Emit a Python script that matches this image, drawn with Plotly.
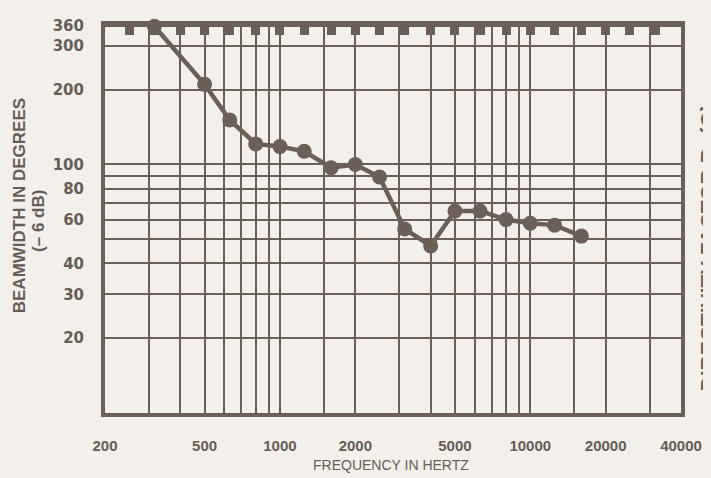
import numpy as np
import plotly.graph_objects as go

# ---- data ----
freq_hz = [315, 500, 630, 800, 1000, 1250, 1600, 2000, 2500, 3150, 4000,
           5000, 6300, 8000, 10000, 12500, 16000]
beamwidth_deg = [360, 210, 151, 121, 118, 113, 97, 100, 89, 55, 47,
                 65, 65, 60, 58, 57, 51.5]

x_label_vals = [200, 500, 1000, 2000, 5000, 10000, 20000, 40000]
x_grid_vals = [300, 400, 500, 600, 700, 800, 900, 1000, 1500, 2000, 3000,
               4000, 5000, 6000, 7000, 8000, 9000, 10000, 15000, 20000, 30000]
third_octave_marks = [200, 250, 315, 400, 500, 630, 800, 1000, 1250, 1600,
                      2000, 2500, 3150, 4000, 5000, 6300, 8000, 10000, 12500,
                      16000, 20000, 25000, 31500]
y_label_vals = [20, 30, 40, 60, 80, 100, 200, 300, 360]
y_grid_vals = [20, 30, 40, 50, 60, 70, 80, 90, 100, 200, 300]

INK = "#6b5f58"
TXT = "#675c56"
BG = "#f3f0eb"

# page body has an 8px margin, so the figure is drawn 8px in from the corner
OFF = 8
W, H = 711 - OFF, 478 - OFF
L, R, T, B = 97, 30, 9, 65
PW, PH = W - L - R, H - T - B


def px(xp):
    return (xp - OFF - L) / PW


def py(yp):
    return (H - B - (yp - OFF)) / PH


x_ticks = sorted(set(x_label_vals) | set(x_grid_vals))
x_text = [f"{v}" if v in x_label_vals else "" for v in x_ticks]
y_ticks = sorted(set(y_label_vals) | set(y_grid_vals))
y_text = [f"{v}" if v in y_label_vals else "" for v in y_ticks]

fig = go.Figure()
fig.add_trace(go.Scatter(
    x=freq_hz, y=beamwidth_deg, mode="lines+markers",
    line=dict(color=INK, width=4.5),
    marker=dict(color=INK, size=15),
    showlegend=False, hoverinfo="x+y", cliponaxis=False,
))
# invisible trace to activate the top axis carrying the 1/3-octave marks
fig.add_trace(go.Scatter(x=[third_octave_marks[0]], y=[100], xaxis="x2",
                         mode="markers", marker=dict(opacity=0),
                         showlegend=False, hoverinfo="skip"))

fig.update_layout(
    width=W, height=H, autosize=False,
    paper_bgcolor=BG, plot_bgcolor=BG,
    margin=dict(l=L, r=R, t=T, b=B),
    xaxis=dict(
        type="log", range=[np.log10(200), np.log10(40000)],
        tickmode="array", tickvals=x_ticks, ticktext=x_text,
        showgrid=True, gridcolor=INK, gridwidth=2,
        showline=True, mirror=True, linecolor=INK, linewidth=4,
        ticks="", ticklabelstandoff=16, zeroline=False,
        tickfont=dict(family="Liberation Sans", size=15, color=TXT, weight="bold"),
    ),
    xaxis2=dict(
        type="log", range=[np.log10(200), np.log10(40000)],
        overlaying="x", side="top", anchor="y",
        tickmode="array", tickvals=third_octave_marks,
        ticks="inside", ticklen=10, tickwidth=9, tickcolor=INK,
        showticklabels=False, showgrid=False, showline=False, zeroline=False,
    ),
    yaxis=dict(
        type="log", range=[1, np.log10(364)],
        tickmode="array", tickvals=y_ticks, ticktext=y_text,
        showgrid=True, gridcolor=INK, gridwidth=2,
        showline=True, mirror=True, linecolor=INK, linewidth=4,
        ticks="", ticklabelstandoff=14, zeroline=False,
        tickfont=dict(family="DejaVu Sans", size=15, color=TXT, weight="bold"),
    ),
    annotations=[
        dict(text="<b>BEAMWIDTH IN DEGREES</b>", textangle=-90,
             xref="paper", yref="paper", x=px(19), y=py(202),
             xanchor="center", yanchor="middle", showarrow=False,
             font=dict(family="Liberation Sans", size=17, color=TXT)),
        dict(text="<b>(– 6 dB)</b>", textangle=-90,
             xref="paper", yref="paper", x=px(39), y=py(217),
             xanchor="center", yanchor="middle", showarrow=False,
             font=dict(family="Liberation Sans", size=17, color=TXT)),
        dict(text="FREQUENCY IN HERTZ",
             xref="paper", yref="paper", x=px(391), y=py(466),
             xanchor="center", yanchor="middle", showarrow=False,
             font=dict(family="Liberation Sans", size=14, color=TXT)),
        dict(text="<b>DIRECTIVITY FACTOR R<sub>θ</sub> (Q)</b>", textangle=-90,
             xref="paper", yref="paper", x=px(709), y=py(245),
             xanchor="center", yanchor="middle", showarrow=False,
             font=dict(family="Liberation Sans", size=21, color=TXT)),
    ],
)

fig.write_html(
    "out.html",
    post_script=f"document.body.style.background='{BG}';",
)
